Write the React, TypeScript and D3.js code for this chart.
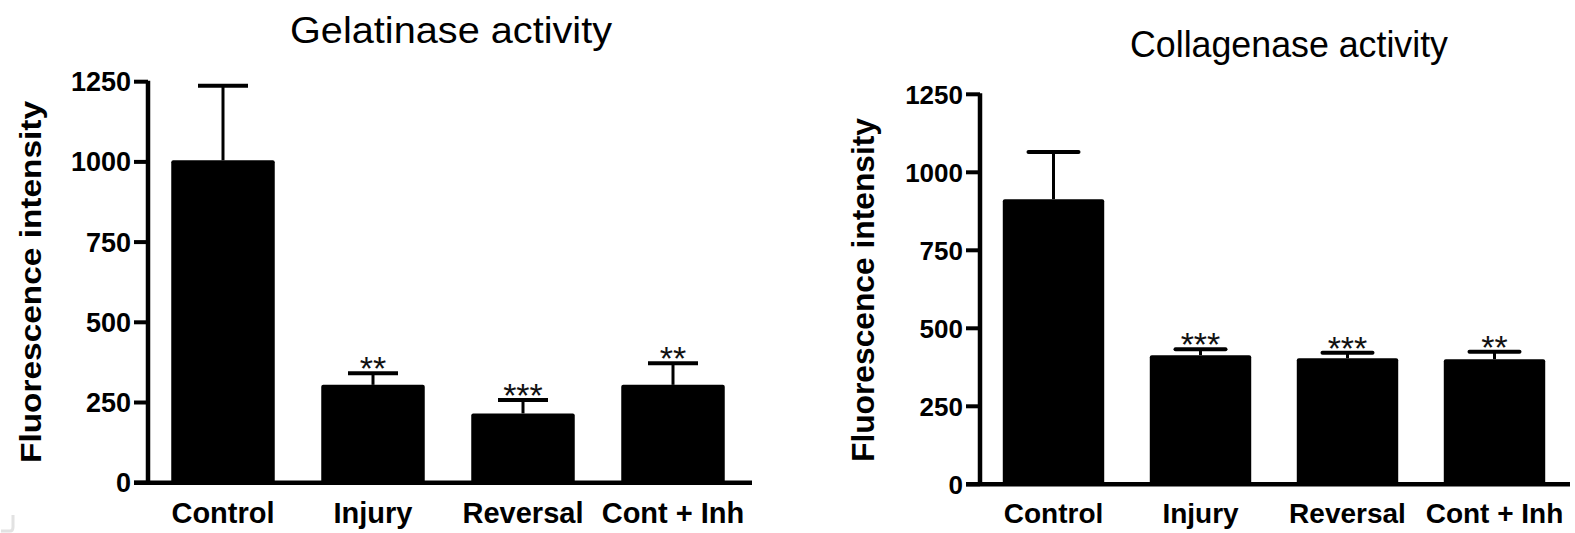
import React from 'react'
import * as d3 from 'd3'

// values
const categories = ['Control', 'Injury', 'Reversal', 'Cont + Inh']
const yTicks = [0, 250, 500, 750, 1000, 1250]

const gelatinaseMeans = [1005, 305, 216, 305]
const gelatinaseErrTop = [1237, 341, 258, 372]
const gelatinaseStars = ['', '**', '***', '**']

const collagenaseMeans = [914, 414, 404, 401]
const collagenaseErrTop = [1065, 433, 422, 425]
const collagenaseStars = ['', '***', '***', '**']

const FONT = '"Liberation Sans", Arial, sans-serif'

type PanelProps = {
    title: string
    means: number[]
    errTop: number[]
    stars: string[]
    left: number
    right: number
    axisEnd: number
    top: number
    bottom: number
    titleX: number
    titleY: number
    titleLen: number
    labelX: number
    labelY: number
    labelLen: number
    labelSize: number
    tickSize: number
    catSize: number
    roundCaps: boolean
}

function Panel(p: PanelProps) {
    const x = d3.scaleBand<string>()
        .domain(categories)
        .range([p.left, p.right])
        .paddingInner(0.31)
        .paddingOuter(0.155)
    const y = d3.scaleLinear().domain([0, 1250]).range([p.bottom, p.top])
    const axisX = p.left
    const bw = x.bandwidth()

    return (
        <g fontFamily={FONT}>
            <text x={p.titleX} y={p.titleY} fontSize={37} textAnchor="middle"
                  textLength={p.titleLen} lengthAdjust="spacingAndGlyphs">{p.title}</text>

            <text transform={`translate(${p.labelX},${p.labelY}) rotate(-90)`}
                  fontSize={p.labelSize} fontWeight="bold" textAnchor="middle"
                  textLength={p.labelLen} lengthAdjust="spacingAndGlyphs">Fluorescence intensity</text>

            {/* bars */}
            {categories.map((c, i) => (
                <rect key={c} x={x(c)} y={y(p.means[i])} width={bw}
                      height={y(0) - y(p.means[i])} rx={2} fill="#000"/>
            ))}

            {/* error bars */}
            {categories.map((c, i) => {
                const cx = (x(c) as number) + bw / 2
                return (
                    <g key={c} stroke="#000">
                        <line x1={cx} x2={cx} y1={y(p.means[i])} y2={y(p.errTop[i])} strokeWidth={3}/>
                        <line x1={cx - 25} x2={cx + 25} y1={y(p.errTop[i])} y2={y(p.errTop[i])}
                              strokeWidth={4} strokeLinecap={p.roundCaps ? 'round' : 'butt'}/>
                    </g>
                )
            })}

            {/* significance stars */}
            {categories.map((c, i) => (
                <text key={c} x={(x(c) as number) + bw / 2} y={y(p.errTop[i]) + 7}
                      fontSize={34} textAnchor="middle" fill="#111">{p.stars[i]}</text>
            ))}

            {/* axes */}
            <line x1={axisX} x2={axisX} y1={p.top - 1} y2={p.bottom} stroke="#000" strokeWidth={4.5}/>
            <line x1={axisX - 14} x2={p.axisEnd} y1={p.bottom} y2={p.bottom} stroke="#000" strokeWidth={4.5}/>
            {yTicks.map(t => (
                <g key={t}>
                    <line x1={axisX - 14} x2={axisX} y1={y(t)} y2={y(t)} stroke="#000" strokeWidth={4}/>
                    <text x={axisX - 17} y={y(t) + 9.5} fontSize={p.tickSize} fontWeight="bold"
                          textAnchor="end">{t}</text>
                </g>
            ))}
            {categories.map(c => (
                <text key={c} x={(x(c) as number) + bw / 2} y={523} fontSize={p.catSize}
                      fontWeight="bold" textAnchor="middle">{c}</text>
            ))}
        </g>
    )
}

export default function App() {
    return (
        <svg width={1575} height={533} style={{position: 'absolute', left: 0, top: 0, background: '#fff'}}>
            <rect width={1575} height={533} fill="#fff"/>
            <Panel title="Gelatinase activity" means={gelatinaseMeans} errTop={gelatinaseErrTop}
                   stars={gelatinaseStars} left={148} right={748} axisEnd={752}
                   top={81.7} bottom={482.7} titleX={451} titleY={43} titleLen={322}
                   labelX={41} labelY={282} labelLen={362} labelSize={30}
                   tickSize={27} catSize={29} roundCaps={false}/>
            <Panel title="Collagenase activity" means={collagenaseMeans} errTop={collagenaseErrTop}
                   stars={collagenaseStars} left={980} right={1568} axisEnd={1570}
                   top={94.3} bottom={484.3} titleX={1289} titleY={57} titleLen={318}
                   labelX={874} labelY={290} labelLen={344} labelSize={31}
                   tickSize={26} catSize={28} roundCaps={true}/>
            <path d="M1,531 L10,531 Q13,531 13,527 L13,515" fill="none" stroke="#e2e2e2" strokeWidth={3}/>
        </svg>
    )
}
